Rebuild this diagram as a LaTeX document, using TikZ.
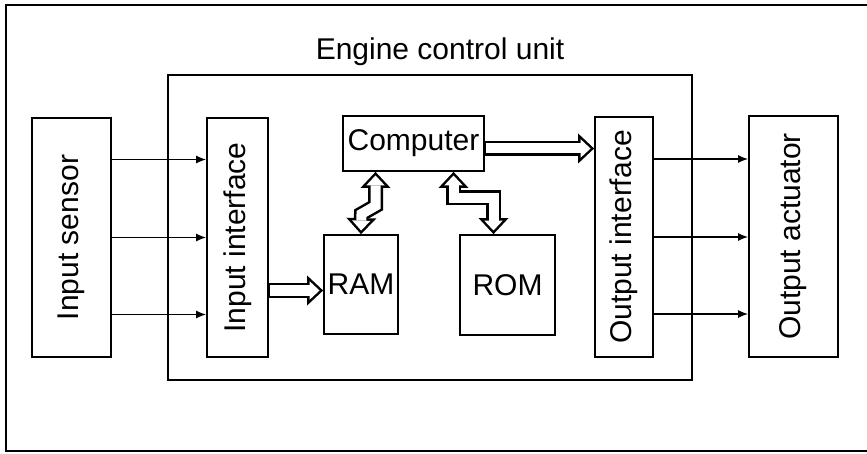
\documentclass[tikz,border=0pt]{standalone}
\usepackage{fontspec}
\setmainfont{Liberation Sans}
\usepackage{tikz}
\usetikzlibrary{arrows.meta,calc,positioning}

\tikzset{
    outertip/.tip={Triangle[length=16pt,width=30pt,line width=0pt]},
    innertip/.tip={Triangle[length=9.9pt,width=18.5pt,line width=0pt]}
}

\begin{document}
\begin{tikzpicture}[
    x=1pt,
    y=-1pt,
    every node/.style={font=\fontsize{30}{36}\selectfont},
    unitbox/.style={
        draw,
        line width=1.8pt,
        inner sep=0pt
    },
    signalline/.style={
        draw,
        line width=1.5pt,
        -{Latex[length=10pt,width=8pt]}
    },
    busouter/.style={
        draw=black,
        line width=15pt,
        line join=miter
    },
    businner/.style={
        draw=white,
        line width=10pt,
        line join=miter,
        shorten >=3.6pt
    }
]

\useasboundingbox (0,0) rectangle (867,454);

% Frame
\draw[line width=1.8pt] (867,5) -- (6,5) -- (6,451) -- (867,451);

% Engine control unit
\node[unitbox,minimum width=524pt,minimum height=305pt] (ecu) at (430,227.5) {};
\node (ecutitle) at (440,52) {Engine control unit};

\node[unitbox,minimum width=79pt,minimum height=239pt] (sensor) at (71.5,237.5)
{\rotatebox{90}{Input sensor}};

\node[unitbox,minimum width=61pt,minimum height=239pt] (inif) at (237.5,237.5)
{\rotatebox{90}{Input interface}};

\node[unitbox,minimum width=141pt,minimum height=55pt] (comp) at (413.5,143.5)
{Computer};

\node[unitbox,minimum width=74pt,minimum height=99pt] (ram) at (361,284.5)
{RAM};

\node[unitbox,minimum width=95pt,minimum height=100pt] (rom) at (507.5,285)
{ROM};

\node[unitbox,minimum width=58pt,minimum height=240pt] (outif) at (624,237)
{\rotatebox{90}{Output interface}};

\node[unitbox,minimum width=89pt,minimum height=241pt] (act) at (793.5,236.5)
{\rotatebox{90}{Output actuator}};

% Signal lines
\foreach \dy in {78,0,-77} {
    \draw[signalline] ([yshift=\dy pt]sensor.east) -- ([yshift=\dy pt]inif.west);
    \draw[signalline] ([yshift=\dy pt]outif.east) -- ([yshift=\dy pt]outif.east -| act.west);
}

% Data buses
\coordinate (raminlet) at ([yshift=-6pt]ram.west);
\draw[busouter,-outertip] (inif.east |- raminlet) -- (raminlet);
\draw[businner,-innertip,shorten <=0.9pt] (inif.east |- raminlet) -- (raminlet);

\coordinate (outinlet) at ([yshift=-5pt]comp.east -| outif.west);
\draw[busouter,-outertip] ([yshift=-5pt]comp.east) -- (outinlet);
\draw[businner,-innertip,shorten <=0.9pt] ([yshift=-5pt]comp.east) -- (outinlet);

\draw[busouter,outertip-outertip]
([xshift=-38pt]comp.south) -- ++(0,34) -- ++(-14,8) -- (ram.north);
\draw[businner,innertip-innertip,shorten <=3.6pt]
([xshift=-38pt]comp.south) -- ++(0,34) -- ++(-14,8) -- (ram.north);

\draw[busouter,outertip-outertip]
([xshift=40pt]comp.south) -- ++(0,26) -| ([xshift=-14pt]rom.north);
\draw[businner,innertip-innertip,shorten <=3.6pt]
([xshift=40pt]comp.south) -- ++(0,26) -| ([xshift=-14pt]rom.north);

\end{tikzpicture}
\end{document}
